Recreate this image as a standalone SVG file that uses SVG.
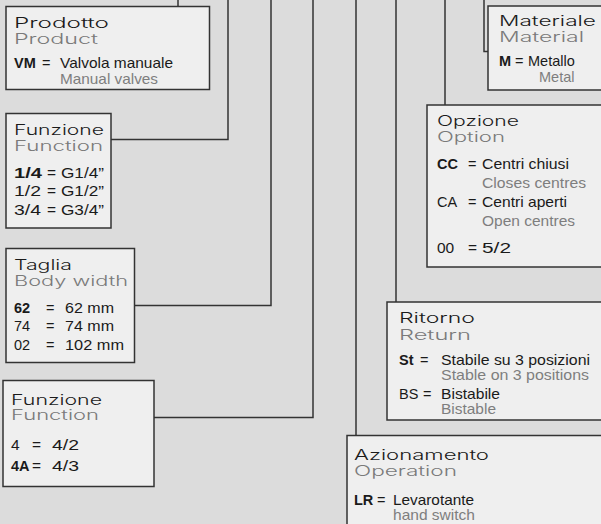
<svg xmlns="http://www.w3.org/2000/svg" width="601" height="524" viewBox="0 0 601 524">
<style>
.bg{fill:#dcdcdc}
.box{fill:#efefef;stroke:#333;stroke-width:1.5}
.conn{fill:none;stroke:#333;stroke-width:1.5}
text{font-family:"Liberation Sans",Arial,sans-serif}
.h,.hg{font-family:Inter,"Open Sans","Liberation Sans",sans-serif;font-weight:300;font-size:14px}
.h{fill:#1a1a1a}
.hg{fill:#7a7a7a}
.t{font-size:14.5px;fill:#1a1a1a}
.f{font-size:15.5px}
.tg{font-size:14.5px;fill:#7e7e7e}
.b{font-weight:bold}
</style>
<rect class="bg" x="0" y="0" width="601" height="524"/>
<g id="connectors">
<path class="conn" d="M178,0 V6.5"/>
<path class="conn" d="M228,0 V139.5 H111"/>
<path class="conn" d="M271,0 V305.5 H134.5"/>
<path class="conn" d="M313,0 V417.5 H154"/>
<path class="conn" d="M356,0 V435.5"/>
<path class="conn" d="M396,0 V302"/>
<path class="conn" d="M445,0 V105"/>
<path class="conn" d="M484,0 V51.5 H488"/>
</g>
<g id="node-prodotto">
<rect class="box" x="6" y="6.5" width="203.5" height="83"/>
<text class="h" x="14" y="27.5" textLength="95" lengthAdjust="spacingAndGlyphs">Prodotto</text>
<text class="hg" x="14" y="43.5" textLength="84" lengthAdjust="spacingAndGlyphs">Product</text>
<text class="t b" x="14" y="67.5">VM</text>
<text class="t" x="42" y="67.5">=</text>
<text class="t" x="60" y="67.5" textLength="113" lengthAdjust="spacingAndGlyphs">Valvola manuale</text>
<text class="tg" x="60" y="83.5" textLength="98" lengthAdjust="spacingAndGlyphs">Manual valves</text>
</g>
<g id="node-funzione-attacco">
<rect class="box" x="6" y="113.5" width="105" height="114.5"/>
<text class="h" x="14" y="134.5" textLength="90" lengthAdjust="spacingAndGlyphs">Funzione</text>
<text class="hg" x="14" y="150.5" textLength="89" lengthAdjust="spacingAndGlyphs">Function</text>
<text class="t f b" x="14" y="177.5" textLength="28" lengthAdjust="spacingAndGlyphs">1/4</text>
<text class="t f" x="47" y="177.5">=</text>
<text class="t f" x="61" y="177.5" textLength="43" lengthAdjust="spacingAndGlyphs">G1/4”</text>
<text class="t f" x="14" y="196" textLength="27" lengthAdjust="spacingAndGlyphs">1/2</text>
<text class="t f" x="47" y="196">=</text>
<text class="t f" x="61" y="196" textLength="43" lengthAdjust="spacingAndGlyphs">G1/2”</text>
<text class="t f" x="14" y="214.5" textLength="27" lengthAdjust="spacingAndGlyphs">3/4</text>
<text class="t f" x="47" y="214.5">=</text>
<text class="t f" x="61" y="214.5" textLength="43" lengthAdjust="spacingAndGlyphs">G3/4”</text>
</g>
<g id="node-taglia">
<rect class="box" x="6" y="248.5" width="128.5" height="114"/>
<text class="h" x="14" y="269.5" textLength="58" lengthAdjust="spacingAndGlyphs">Taglia</text>
<text class="hg" x="14" y="285.5" textLength="114" lengthAdjust="spacingAndGlyphs">Body width</text>
<text class="t b" x="14" y="312.5">62</text>
<text class="t" x="46" y="312.5">=</text>
<text class="t" x="65" y="312.5" textLength="49" lengthAdjust="spacingAndGlyphs">62 mm</text>
<text class="t" x="14" y="331">74</text>
<text class="t" x="46" y="331">=</text>
<text class="t" x="65" y="331" textLength="49" lengthAdjust="spacingAndGlyphs">74 mm</text>
<text class="t" x="14" y="349.5">02</text>
<text class="t" x="46" y="349.5">=</text>
<text class="t" x="65" y="349.5" textLength="59" lengthAdjust="spacingAndGlyphs">102 mm</text>
</g>
<g id="node-funzione-vie">
<rect class="box" x="3" y="380.5" width="151" height="106"/>
<text class="h" x="11" y="404.5" textLength="91" lengthAdjust="spacingAndGlyphs">Funzione</text>
<text class="hg" x="11" y="420" textLength="88" lengthAdjust="spacingAndGlyphs">Function</text>
<text class="t f" x="11" y="450">4</text>
<text class="t f" x="32" y="450">=</text>
<text class="t f" x="52" y="450" textLength="27" lengthAdjust="spacingAndGlyphs">4/2</text>
<text class="t b" x="11" y="470.5">4A</text>
<text class="t f" x="32" y="470.5">=</text>
<text class="t f" x="52" y="470.5" textLength="27" lengthAdjust="spacingAndGlyphs">4/3</text>
</g>
<g id="node-materiale">
<rect class="box" x="488" y="6" width="120" height="84"/>
<text class="h" x="499" y="26" textLength="97" lengthAdjust="spacingAndGlyphs">Materiale</text>
<text class="hg" x="499" y="41.5" textLength="85" lengthAdjust="spacingAndGlyphs">Material</text>
<text class="t b" x="499" y="65.5">M</text>
<text class="t" x="515" y="65.5">=</text>
<text class="t" x="528" y="65.5">Metallo</text>
<text class="tg" x="539" y="81.5">Metal</text>
</g>
<g id="node-opzione">
<rect class="box" x="427" y="105" width="180" height="162"/>
<text class="h" x="437" y="125.5" textLength="82" lengthAdjust="spacingAndGlyphs">Opzione</text>
<text class="hg" x="437" y="141.5" textLength="68" lengthAdjust="spacingAndGlyphs">Option</text>
<text class="t b" x="437" y="168.5">CC</text>
<text class="t" x="468" y="168.5">=</text>
<text class="t" x="482" y="168.5" textLength="87" lengthAdjust="spacingAndGlyphs">Centri chiusi</text>
<text class="tg" x="482" y="187.5" textLength="104" lengthAdjust="spacingAndGlyphs">Closes centres</text>
<text class="t" x="437" y="206.5">CA</text>
<text class="t" x="468" y="206.5">=</text>
<text class="t" x="482" y="206.5" textLength="85" lengthAdjust="spacingAndGlyphs">Centri aperti</text>
<text class="tg" x="482" y="226" textLength="93" lengthAdjust="spacingAndGlyphs">Open centres</text>
<text class="t f" x="437" y="252.5">00</text>
<text class="t f" x="468" y="252.5">=</text>
<text class="t f" x="482" y="252.5" textLength="29" lengthAdjust="spacingAndGlyphs">5/2</text>
</g>
<g id="node-ritorno">
<rect class="box" x="387" y="302" width="220" height="118"/>
<text class="h" x="399" y="323" textLength="76" lengthAdjust="spacingAndGlyphs">Ritorno</text>
<text class="hg" x="399" y="339.5" textLength="72" lengthAdjust="spacingAndGlyphs">Return</text>
<text class="t b" x="399" y="364.5">St</text>
<text class="t" x="420" y="364.5">=</text>
<text class="t" x="441" y="364.5" textLength="149" lengthAdjust="spacingAndGlyphs">Stabile su 3 posizioni</text>
<text class="tg" x="441" y="379.5" textLength="148" lengthAdjust="spacingAndGlyphs">Stable on 3 positions</text>
<text class="t" x="399" y="398.5">BS</text>
<text class="t" x="423" y="398.5">=</text>
<text class="t" x="441" y="398.5" textLength="59" lengthAdjust="spacingAndGlyphs">Bistabile</text>
<text class="tg" x="441" y="413.5" textLength="55" lengthAdjust="spacingAndGlyphs">Bistable</text>
</g>
<g id="node-azionamento">
<rect class="box" x="347" y="435.5" width="260" height="100"/>
<text class="h" x="354" y="459.5" textLength="135" lengthAdjust="spacingAndGlyphs">Azionamento</text>
<text class="hg" x="354" y="476" textLength="103" lengthAdjust="spacingAndGlyphs">Operation</text>
<text class="t b" x="354" y="504.5">LR</text>
<text class="t" x="377" y="504.5">=</text>
<text class="t" x="393" y="504.5" textLength="81" lengthAdjust="spacingAndGlyphs">Levarotante</text>
<text class="tg" x="393" y="520" textLength="82" lengthAdjust="spacingAndGlyphs">hand switch</text>
</g>
</svg>
